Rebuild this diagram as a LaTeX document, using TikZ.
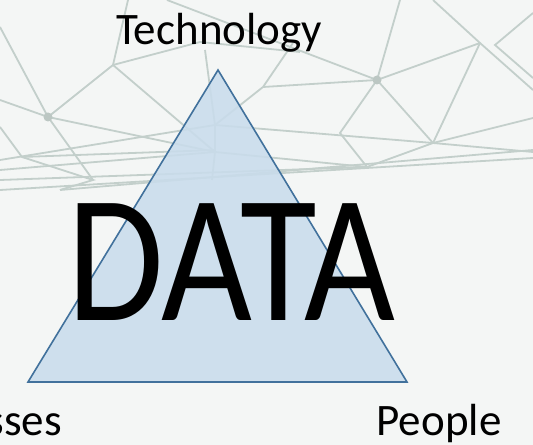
\documentclass[tikz,border=0pt]{standalone}
\usepackage{fontspec}
\setmainfont{Carlito}
\definecolor{bgc}{HTML}{F4F6F5}
\definecolor{netc}{HTML}{C3CFCB}
\definecolor{trifill}{HTML}{C9DCEC}
\definecolor{triedge}{HTML}{41719C}
\tikzset{
  net/.style={draw=netc, line width=1.8bp},
  netdot/.style={fill=netc!90!gray},
  lbl/.style={inner sep=0pt, font=\fontsize{45bp}{54bp}\selectfont},
}
\begin{document}
\begin{tikzpicture}[x=1bp,y=-1bp]
\fill[bgc] (0,0) rectangle (533,445);
\useasboundingbox (0,0) rectangle (533,445);
% background network
\coordinate (A) at (48,117);
\coordinate (B) at (113,65);
\coordinate (C) at (215,152);
\coordinate (C2) at (215,125);
\coordinate (D) at (377,80);
\coordinate (E) at (263,87);
\coordinate (F) at (480,43);
\coordinate (G) at (433,143);
\coordinate (H) at (367,167);
\coordinate (K) at (340,133);
\path[net] (0,27) -- (A) -- (0,100);
\path[net] (A) -- (B) -- (128,0);
\path[net] (B) -- (C);
\path[net] (A) -- (93,180);
\path[net] (A) -- (C);
\path[net] (B) -- (200,42) -- (300,52);
\path[net] (205,50) -- (C2) -- (C) -- (212,180);
\path[net] (167,0) -- (D);
\path[net] (D) -- (400,0);
\path[net] (D) -- (F);
\path[net] (433,0) -- (F) -- (533,90);
\path[net] (533,13) -- (495,45) -- (533,78);
\path[net] (E) -- (D);
\path[net] (E) -- (C2);
\path[net] (E) -- (293,43);
\path[net] (D) -- (K) -- (H);
\path[net] (F) -- (G);
\path[net] (D) -- (G);
\path[net] (G) -- (533,118);
\path[net] (G) -- (H);
\path[net] (C2) -- (G) -- (533,152);
\path[net] (C) -- (H);
\path[net] (0,127) -- (22,157) -- (93,180) -- (60,190);
\path[net] (0,170) -- (C) ;
\path[net] (0,190) -- (533,158);
\path[net] (0,180) -- (H);
\path[net] (22,157) -- (215,150);
\path[net] (0,160) -- (C2);
\path[net] (60,190) -- (533,150);
\fill[netdot] (A) circle (4.5);
\fill[netdot] (D) circle (4.5);
% triangle
\coordinate (T1) at (218,70);
\coordinate (T2) at (28,382);
\coordinate (T3) at (407,382);
\filldraw[fill=trifill, fill opacity=0.88, draw=triedge, line width=1.6bp, line join=miter] (T1) -- (T2) -- (T3) -- cycle;
% labels
\node[lbl, anchor=base] (tech) at (219,45) {Technology};
\node[lbl, anchor=base] (people) at (439,435) {People};
\node[lbl, anchor=base east] (proc) at (62,435) {sses};
\node[inner sep=0pt, anchor=base, font=\fontsize{157bp}{157bp}\selectfont] (data) at (231,320) {\scalebox{1}[1.16]{DATA}};
\end{tikzpicture}
\end{document}
